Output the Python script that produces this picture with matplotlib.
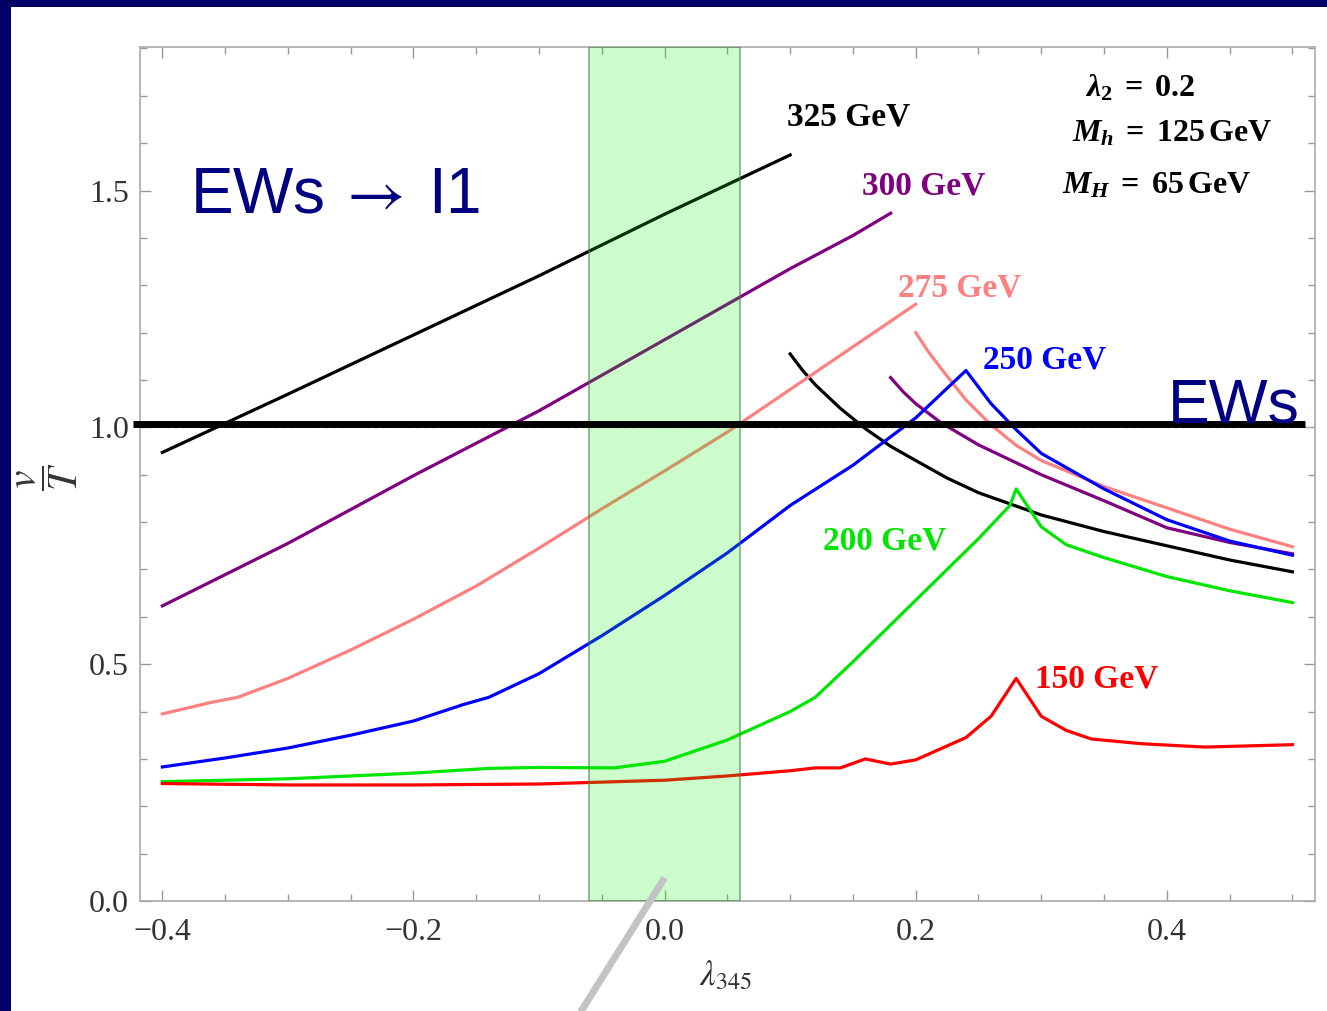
import matplotlib
matplotlib.use("Agg")
import matplotlib.pyplot as plt
from matplotlib.patches import Rectangle
from matplotlib.ticker import MultipleLocator, FuncFormatter

# bold Times-like math for the parameter box; axis labels use stix instead
plt.rcParams["mathtext.fontset"] = "custom"
plt.rcParams["mathtext.rm"] = "Liberation Serif:bold"
plt.rcParams["mathtext.it"] = "Liberation Serif:italic:bold"
plt.rcParams["mathtext.bf"] = "Liberation Serif:bold"

NAVY = "#000066"
TEXT_NAVY = "#000080"

# v/T against lambda_345, one entry per heavy scalar mass
lam_325_lo = [-0.40, -0.30, -0.20, -0.10, 0.00, 0.10]
vt_325_lo = [0.947, 1.07, 1.195, 1.32, 1.45, 1.575]
lam_325_hi = [0.10, 0.11, 0.12, 0.14, 0.16, 0.18, 0.20, 0.225, 0.25, 0.30, 0.35, 0.40, 0.45, 0.50]
vt_325_hi = [1.155, 1.12, 1.09, 1.04, 0.997, 0.96, 0.93, 0.893, 0.862, 0.815, 0.78, 0.75, 0.72, 0.695]

lam_300_lo = [-0.40, -0.30, -0.20, -0.10, -0.05, 0.00, 0.05, 0.10, 0.15, 0.18]
vt_300_lo = [0.623, 0.755, 0.898, 1.035, 1.11, 1.185, 1.26, 1.335, 1.405, 1.452]
lam_300_hi = [0.18, 0.19, 0.20, 0.22, 0.25, 0.30, 0.35, 0.40, 0.45, 0.50]
vt_300_hi = [1.105, 1.075, 1.05, 1.01, 0.963, 0.90, 0.845, 0.788, 0.757, 0.733]

lam_275_lo = [-0.40, -0.36, -0.34, -0.30, -0.25, -0.20, -0.15, -0.10, -0.05, 0.00, 0.05, 0.10, 0.15, 0.20]
vt_275_lo = [0.395, 0.42, 0.43, 0.47, 0.53, 0.595, 0.665, 0.745, 0.828, 0.908, 0.99, 1.08, 1.17, 1.26]
lam_275_hi = [0.20, 0.21, 0.22, 0.24, 0.26, 0.28, 0.30, 0.35, 0.40, 0.45, 0.50]
vt_275_hi = [1.20, 1.16, 1.125, 1.058, 1.005, 0.962, 0.93, 0.875, 0.83, 0.785, 0.748]

lam_250 = [-0.40, -0.35, -0.30, -0.25, -0.20, -0.16, -0.14, -0.10, -0.05, 0.00, 0.05, 0.10,
           0.15, 0.20, 0.24, 0.26, 0.28, 0.30, 0.35, 0.40, 0.45, 0.50]
vt_250 = [0.283, 0.302, 0.323, 0.35, 0.38, 0.415, 0.43, 0.48, 0.56, 0.645, 0.735, 0.835,
          0.92, 1.02, 1.12, 1.05, 0.995, 0.945, 0.87, 0.805, 0.76, 0.73]

lam_200 = [-0.40, -0.30, -0.20, -0.14, -0.10, -0.04, 0.00, 0.05, 0.10, 0.12, 0.15, 0.20,
           0.25, 0.275, 0.28, 0.30, 0.32, 0.35, 0.40, 0.45, 0.50]
vt_200 = [0.252, 0.258, 0.27, 0.28, 0.282, 0.281, 0.295, 0.34, 0.40, 0.43, 0.505, 0.635,
          0.765, 0.835, 0.87, 0.79, 0.752, 0.725, 0.685, 0.655, 0.63]

lam_150 = [-0.40, -0.30, -0.20, -0.10, -0.05, 0.00, 0.05, 0.10, 0.12, 0.14, 0.16, 0.18,
           0.20, 0.24, 0.26, 0.28, 0.30, 0.32, 0.34, 0.38, 0.43, 0.50]
vt_150 = [0.248, 0.245, 0.245, 0.247, 0.251, 0.255, 0.264, 0.275, 0.281, 0.281, 0.30, 0.289,
          0.298, 0.345, 0.39, 0.47, 0.39, 0.36, 0.342, 0.332, 0.325, 0.33]

branches = [
    ("black", lam_325_lo, vt_325_lo), ("black", lam_325_hi, vt_325_hi),
    ("#800080", lam_300_lo, vt_300_lo), ("#800080", lam_300_hi, vt_300_hi),
    ("#ff8080", lam_275_lo, vt_275_lo), ("#ff8080", lam_275_hi, vt_275_hi),
    ("#0000ff", lam_250, vt_250),
    ("#00e600", lam_200, vt_200),
    ("#ff0000", lam_150, vt_150),
]

mass_labels = ["325 GeV", "300 GeV", "275 GeV", "250 GeV", "200 GeV", "150 GeV"]
label_colors = ["black", "#800080", "#ff8080", "#0000ff", "#00e600", "#ff0000"]
label_x = [0.0975, 0.157, 0.186, 0.2536, 0.126, 0.295]
label_y = [1.655, 1.509, 1.294, 1.142, 0.761, 0.469]

band_lo, band_hi = -0.06, 0.06
ews_level = 1.0

fig = plt.figure(figsize=(13.27, 10.11), dpi=100, facecolor=NAVY)
fig.add_artist(Rectangle((11 / 1327, 0), 1, 1 - 7 / 1011, transform=fig.transFigure,
                         facecolor="white", edgecolor="none", zorder=0))

ax = fig.add_axes([140 / 1327, 1 - 901 / 1011, (1315 - 140) / 1327, (901 - 47) / 1011])
ax.set_xlim(-0.4178, 0.518)
ax.set_ylim(0, 1.803)

for color, xs, ys in branches:
    ax.plot(xs, ys, color=color, lw=2.3, zorder=3)

for text, color, x, y in zip(mass_labels, label_colors, label_x, label_y):
    ax.text(x, y, text, color=color, fontsize=24, fontweight="bold",
            family="Liberation Serif", ha="left", va="center", zorder=6)

# allowed region, drawn translucent over the curves
ax.axvspan(band_lo, band_hi, facecolor=(0.0, 0.93, 0.0, 0.2),
           edgecolor=(0.3, 0.5, 0.3, 0.6), lw=1.3, zorder=4)

# dashed reference line and the thick EWs marker on top of it
ax.axhline(ews_level, color="#bbbbbb", lw=1, ls=(0, (3, 3)), zorder=2)
ax.plot([-0.423, 0.510], [ews_level + 0.007] * 2, color="black", lw=5,
        solid_capstyle="butt", clip_on=False, zorder=7)

ax.text(-0.378, 1.4545, r"EWs$\;\rightarrow\;$I1", color=TEXT_NAVY, fontsize=46,
        family="Liberation Sans", math_fontfamily="stix",
        ha="left", va="baseline", zorder=8)
ax.text(0.401, 1.0106, "EWs", color=TEXT_NAVY, fontsize=45,
        family="Liberation Sans", ha="left", va="baseline", zorder=8)

ax.text(0.335, 1.717, r"$\lambda_2\;=\;0.2$", fontsize=23, ha="left", va="center")
ax.text(0.3244, 1.622, r"$M_h\;=\;125\,\mathrm{GeV}$", fontsize=23, ha="left", va="center")
ax.text(0.3165, 1.512, r"$M_H\;=\;65\,\mathrm{GeV}$", fontsize=23, ha="left", va="center")

# pointer stroke from the band down off the frame
ax.plot([0.0, -0.067], [0.049, -0.235], color="#c3c3c3", lw=5, clip_on=False,
        solid_capstyle="butt", zorder=9)

for side in ax.spines.values():
    side.set_color("#aaaaaa")
    side.set_linewidth(1.2)

ax.xaxis.set_major_locator(MultipleLocator(0.2))
ax.xaxis.set_minor_locator(MultipleLocator(0.05))
ax.yaxis.set_major_locator(MultipleLocator(0.5))
ax.yaxis.set_minor_locator(MultipleLocator(0.1))
ax.xaxis.set_major_formatter(FuncFormatter(lambda v, p: f"{v:.1f}".replace("-", "\u2212")))
ax.yaxis.set_major_formatter(FuncFormatter(lambda v, p: f"{v:.1f}"))
ax.tick_params(which="both", direction="in", top=True, right=True, color="#999999", width=1)
ax.tick_params(which="major", length=8, labelsize=23, labelcolor="#333333")
ax.tick_params(which="minor", length=5)
ax.tick_params(axis="x", which="major", pad=12)
ax.tick_params(axis="y", which="major", pad=8)
for lab in ax.get_xticklabels() + ax.get_yticklabels():
    lab.set_family("Liberation Serif")

fig.text(48 / 1327, 1 - 477 / 1011, r"$\dfrac{v}{T}$", fontsize=30, rotation=90,
         ha="center", va="center", color="#333333", math_fontfamily="stix")
fig.text(726 / 1327, 1 - 975 / 1011, r"$\lambda_{345}$", fontsize=25,
         ha="center", va="center", color="#333333", math_fontfamily="stix")

fig.savefig("out.png", dpi=100, facecolor=fig.get_facecolor())
